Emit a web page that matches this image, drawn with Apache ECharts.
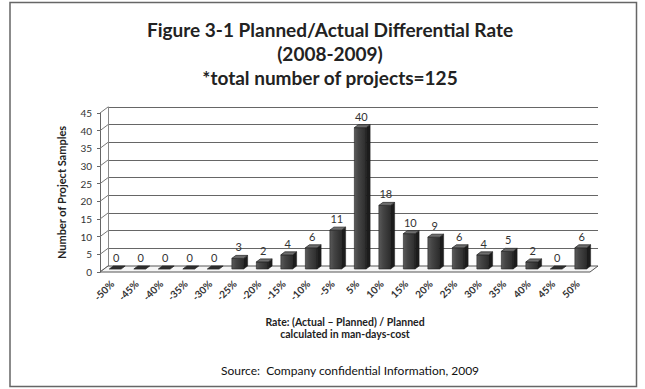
<!DOCTYPE html>
<html>
<head>
<meta charset="utf-8">
<script src="https://cdn.jsdelivr.net/npm/echarts@6/dist/echarts.min.js"></script>
<style>
  html, body { margin: 0; padding: 0; background: #fff; }
  #chart { width: 645px; height: 389px; }
</style>
</head>
<body>
<div id="chart"></div>
<script>
// categories on the x axis
const rateLabels = ['-50%', '-45%', '-40%', '-35%', '-30%', '-25%', '-20%', '-15%', '-10%', '-5%',
                    '5%', '10%', '15%', '20%', '25%', '30%', '35%', '40%', '45%', '50%'];
// number of projects per rate bucket
const projectCounts = [0, 0, 0, 0, 0, 3, 2, 4, 6, 11, 40, 18, 10, 9, 6, 4, 5, 2, 0, 6];
// value axis ticks
const yTicks = [0, 5, 10, 15, 20, 25, 30, 35, 40, 45];

const titleLines = ['Figure 3-1 Planned/Actual Differential Rate', '(2008-2009)', '*total number of projects=125'];
const yName = 'Number of Project Samples';
const xNameLines = ['Rate: (Actual \u2013 Planned) / Planned', 'calculated in man-days-cost'];
const sourceText = 'Source:  Company confidential Information, 2009';

const FONT = 'Lato, "Open Sans", sans-serif';
// depth of the 3d box (back wall offset)
const DX = 8, DY = -6;

const chart = echarts.init(document.getElementById('chart'), null, {renderer: 'svg'});

function renderBar(params, api) {
  const idx = api.value(0), val = api.value(1);
  const base = api.coord([idx, 0]);
  const top = api.coord([idx, val]);
  const bw = api.size([1, 0])[0] * 0.48;
  const ox = 3, oy = -3;       // bars stand at mid depth
  const bdx = 4, bdy = -3;     // bar depth
  const x0 = base[0] - bw / 2 + ox, x1 = x0 + bw;
  const yb = base[1] + oy, yt = top[1] + oy;
  const kids = [];
  if (val > 0) {
    kids.push({
      type: 'rect', shape: {x: x0, y: yt, width: bw, height: yb - yt},
      style: {fill: new echarts.graphic.LinearGradient(0, 0, 1, 0, [
        {offset: 0, color: '#5a5a5a'}, {offset: 0.35, color: '#454545'}, {offset: 1, color: '#2c2c2c'}
      ]), stroke: '#222', lineWidth: 0.6}
    });
    kids.push({
      type: 'polygon', shape: {points: [[x1, yt], [x1 + bdx, yt + bdy], [x1 + bdx, yb + bdy], [x1, yb]]},
      style: {fill: '#1c1c1c', stroke: '#1c1c1c', lineWidth: 0.5}
    });
  }
  kids.push({
    type: 'polygon', shape: {points: [[x0, yt], [x1, yt], [x1 + bdx, yt + bdy], [x0 + bdx, yt + bdy]]},
    style: {fill: val > 0 ? '#6e6e6e' : '#2e2e2e', stroke: '#2a2a2a', lineWidth: 0.8}
  });
  kids.push({
    type: 'text', x: (x0 + x1) / 2 + 1, y: yt + bdy - 3,
    style: {text: String(val), fill: '#333', font: '11px ' + FONT, textAlign: 'center', textVerticalAlign: 'bottom'}
  });
  return {type: 'group', children: kids};
}

function renderFloor(params) {
  const cs = params.coordSys;
  const yb = cs.y + cs.height;
  return {
    type: 'polygon',
    shape: {points: [[cs.x, yb], [cs.x + cs.width, yb], [cs.x + cs.width + DX, yb + DY], [cs.x + DX, yb + DY]]},
    style: {fill: '#f5f5f5', stroke: '#555', lineWidth: 1}
  };
}

function renderSide(params, api) {
  const cs = params.coordSys;
  const p = api.coord([0, api.value(0)]);
  return {
    type: 'line',
    shape: {x1: cs.x, y1: p[1], x2: cs.x + DX, y2: p[1] + DY},
    style: {stroke: '#777', lineWidth: 1}
  };
}

chart.setOption({
  backgroundColor: '#fff',
  animation: false,
  title: [{
    text: titleLines.join('\n'),
    left: 325, top: 12, textAlign: 'center',
    textStyle: {fontFamily: FONT, fontSize: 19, fontWeight: 'bold', color: '#222', lineHeight: 24}
  }, {
    text: sourceText,
    left: 345, top: 359, textAlign: 'center',
    textStyle: {fontFamily: FONT, fontSize: 12, fontWeight: 'normal', color: '#111'}
  }],
  graphic: [{
    type: 'rect', shape: {x: 10, y: 2.5, width: 626.5, height: 384},
    style: {fill: 'none', stroke: '#666', lineWidth: 1.5}, silent: true
  }],
  grid: [
    {left: 100, right: 55, top: 113, bottom: 117},
    {left: 100 + DX, right: 55 - DX, top: 113 + DY, bottom: 117 - DY}
  ],
  xAxis: [{
    type: 'category', data: rateLabels, gridIndex: 0,
    axisLine: {show: false}, axisTick: {show: false},
    axisLabel: {rotate: 45, margin: 10, fontFamily: FONT, fontSize: 10, fontWeight: 'bold', color: '#333', interval: 0},
    name: xNameLines.join('\n'), nameLocation: 'middle', nameGap: 44,
    nameTextStyle: {fontFamily: FONT, fontSize: 10.5, fontWeight: 'bold', color: '#222', lineHeight: 12}
  }, {
    type: 'category', data: rateLabels, gridIndex: 1, show: false
  }],
  yAxis: [{
    type: 'value', gridIndex: 0, min: 0, max: 45, interval: 5,
    axisLine: {show: true, lineStyle: {color: '#666'}},
    axisTick: {show: true, length: 3, lineStyle: {color: '#666'}},
    splitLine: {show: false},
    axisLabel: {fontFamily: FONT, fontSize: 10, color: '#333', margin: 8},
    name: yName, nameLocation: 'middle', nameGap: 33,
    nameTextStyle: {fontFamily: FONT, fontSize: 11, fontWeight: 'bold', color: '#222'}
  }, {
    type: 'value', gridIndex: 1, min: 0, max: 45, interval: 5,
    axisLine: {show: true, lineStyle: {color: '#888'}},
    axisTick: {show: false}, axisLabel: {show: false},
    splitLine: {show: true, lineStyle: {color: '#666', width: 1}}
  }],
  series: [{
    type: 'custom', xAxisIndex: 0, yAxisIndex: 0, z: 1,
    renderItem: renderSide, data: yTicks.map(v => [v])
  }, {
    type: 'custom', xAxisIndex: 0, yAxisIndex: 0, z: 2,
    renderItem: renderFloor, data: [[0]]
  }, {
    type: 'custom', xAxisIndex: 0, yAxisIndex: 0, z: 3,
    renderItem: renderBar,
    data: projectCounts.map((v, i) => [i, v])
  }]
});
</script>
</body>
</html>
